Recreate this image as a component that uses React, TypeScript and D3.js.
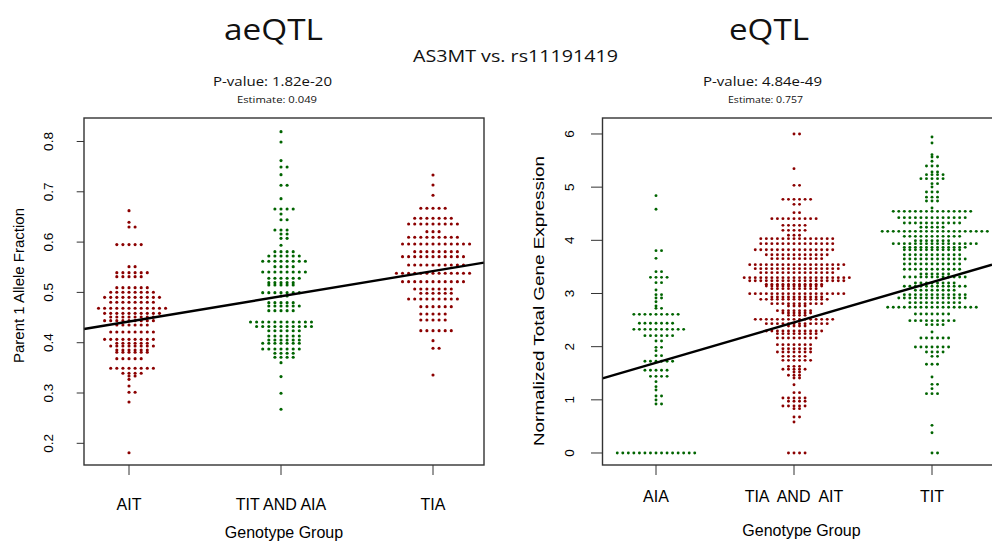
import React from "react";
import * as d3 from "d3";

// beeswarm rows: [value, number of samples in the row]
const aeqtlGroups = ["AIT", "TIT AND AIA", "TIA"];
const eqtlGroups = ["AIA", "TIA  AND  AIT", "TIT"];

const aitRows: [number, number][] = [
  [0.6625, 1], [0.6394, 1], [0.6301, 2], [0.595, 5], [0.5512, 2], [0.5393, 6],
  [0.5313, 5], [0.5095, 6], [0.5002, 8], [0.4902, 10], [0.4803, 8], [0.4684, 12],
  [0.4584, 10], [0.4511, 8], [0.4439, 9], [0.4352, 6], [0.4213, 8], [0.4067, 9],
  [0.3988, 6], [0.3935, 8], [0.3855, 6], [0.3809, 6], [0.3683, 5], [0.3491, 8],
  [0.3392, 4], [0.3339, 2], [0.3272, 1], [0.314, 1], [0.3014, 2], [0.2822, 1],
  [0.1814, 1],
];
const titAiaRows: [number, number][] = [
  [0.8196, 1], [0.7991, 1], [0.762, 1], [0.7494, 2], [0.7341, 1], [0.7129, 2],
  [0.6864, 1], [0.6659, 4], [0.6559, 1], [0.6443, 2], [0.6241, 3], [0.6162, 2],
  [0.6075, 2], [0.5936, 1], [0.581, 4], [0.5724, 6], [0.5618, 8], [0.5512, 4],
  [0.5406, 8], [0.528, 6], [0.5194, 5], [0.5146, 5], [0.4995, 7], [0.4929, 2],
  [0.4796, 5], [0.473, 6], [0.4637, 5], [0.4412, 11], [0.4322, 10], [0.4239, 6],
  [0.4134, 6], [0.4054, 6], [0.3988, 7], [0.3875, 7], [0.3789, 4], [0.371, 4],
  [0.3604, 1], [0.3326, 1], [0.2994, 1], [0.2676, 1],
];
const tiaRows: [number, number][] = [
  [0.7335, 1], [0.7136, 1], [0.693, 1], [0.6672, 5], [0.6473, 7], [0.636, 9],
  [0.6208, 3], [0.6095, 9], [0.5963, 12], [0.581, 8], [0.5711, 11], [0.5545, 10],
  [0.538, 13], [0.5214, 11], [0.5068, 7], [0.4982, 6], [0.4869, 9], [0.4717, 6],
  [0.4571, 5], [0.4452, 5], [0.424, 6], [0.4041, 1], [0.3889, 2], [0.3358, 1],
];

const aiaRows: [number, number][] = [
  [4.84, 1], [4.583, 1], [3.806, 2], [3.661, 1], [3.411, 2], [3.304, 4], [3.204, 2],
  [3.066, 1], [2.978, 2], [2.915, 2], [2.846, 1], [2.765, 1], [2.721, 2], [2.608, 9],
  [2.439, 7], [2.326, 10], [2.207, 6], [2.107, 2], [1.987, 2], [1.925, 1], [1.831, 2],
  [1.725, 6], [1.555, 5], [1.442, 4], [1.342, 1], [1.248, 1], [1.185, 1], [1.072, 2],
  [0.997, 1], [0.922, 2], [0, 15],
];
const tiaAitRows: [number, number][] = [
  [6.0, 2], [5.348, 1], [5.034, 2], [4.771, 6], [4.677, 2], [4.52, 2], [4.408, 9],
  [4.282, 5], [4.188, 5], [4.094, 3], [4.031, 14], [3.937, 14], [3.824, 15], [3.73, 12],
  [3.655, 10], [3.542, 18], [3.467, 16], [3.392, 14], [3.298, 20], [3.241, 18],
  [3.172, 11], [3.141, 11], [3.091, 9], [2.997, 18], [2.934, 10], [2.89, 13], [2.809, 10],
  [2.765, 4], [2.677, 7], [2.633, 6], [2.589, 4], [2.514, 15], [2.433, 12], [2.389, 4],
  [2.295, 11], [2.245, 8], [2.163, 8], [2.038, 7], [1.962, 6], [1.9, 7], [1.818, 5],
  [1.743, 6], [1.63, 3], [1.574, 5], [1.524, 2], [1.461, 3], [1.411, 2], [1.285, 1],
  [1.135, 2], [1.034, 5], [0.972, 4], [0.884, 5], [0.834, 2], [0.677, 2], [0.583, 1],
  [0, 4],
];
const titRows: [number, number][] = [
  [5.944, 1], [5.831, 1], [5.611, 1], [5.567, 2], [5.486, 1], [5.398, 3], [5.285, 2],
  [5.235, 4], [5.16, 5], [5.066, 2], [5.003, 1], [4.909, 3], [4.812, 3], [4.74, 3],
  [4.608, 1], [4.545, 15], [4.426, 13], [4.326, 11], [4.245, 5], [4.169, 20], [4.075, 11],
  [3.993, 7], [3.937, 16], [3.868, 12], [3.824, 11], [3.73, 11], [3.649, 12], [3.555, 11],
  [3.455, 11], [3.367, 6], [3.31, 12], [3.198, 8], [3.135, 12], [3.06, 8], [2.978, 12],
  [2.915, 13], [2.828, 10], [2.74, 17], [2.614, 7], [2.489, 9], [2.414, 4], [2.276, 1],
  [2.163, 6], [1.994, 7], [1.9, 4], [1.818, 2], [1.668, 3], [1.429, 1], [1.291, 2],
  [1.21, 1], [1.116, 3], [0.52, 1], [0.382, 1], [0, 2],
];

const aeqtlTicks = [0.2, 0.3, 0.4, 0.5, 0.6, 0.7, 0.8];
const eqtlTicks = [0, 1, 2, 3, 4, 5, 6];

const RED = "#8b0000";
const GREEN = "#006400";
const AXIS_FONT = "'Liberation Sans', Arial, Helvetica, sans-serif";
const TITLE_FONT = "'Open Sans', sans-serif";

// square-grid beeswarm: 0, +1, -1, +2, -2 ... columns per row
function swarm(rows: [number, number][], group: number, step: number) {
  const pts: { x: number; y: number }[] = [];
  rows.forEach(([value, n]) => {
    d3.range(n).forEach((k) => {
      const off = k === 0 ? 0 : k % 2 === 1 ? (k + 1) / 2 : -k / 2;
      pts.push({ x: group + off * step, y: value });
    });
  });
  return pts;
}

function drawPanel(svg: any, p: any) {
  const x = d3.scaleLinear().domain([1, 3]).range(p.xRange);
  const y = d3.scaleLinear().domain(p.yDomain).range([465, 118]);
  const [left, right] = p.box;
  const g = svg.append("g");

  /* points */
  p.rows.forEach((rows: [number, number][], i: number) => {
    g.append("g")
      .attr("fill", p.colors[i])
      .selectAll("circle")
      .data(swarm(rows, i + 1, 0.0401))
      .join("circle")
      .attr("cx", (d: any) => x(d.x))
      .attr("cy", (d: any) => y(d.y))
      .attr("r", p.r);
  });

  /* regression line */
  const xs = [x.invert(left), x.invert(Math.min(right, 992))];
  const line = d3
    .line<number>()
    .x((d) => x(d))
    .y((d) => y(p.intercept + p.slope * d));
  g.append("path")
    .attr("d", line(xs))
    .attr("fill", "none")
    .attr("stroke", "#000")
    .attr("stroke-width", 2.4);

  /* box */
  g.append("rect")
    .attr("x", left)
    .attr("y", 118)
    .attr("width", right - left)
    .attr("height", 465 - 118)
    .attr("fill", "none")
    .attr("stroke", "#333")
    .attr("stroke-width", 1.4);

  /* y axis */
  const yt = g.append("g");
  p.yTicks.forEach((t: number) => {
    yt.append("line")
      .attr("x1", left - p.yTickLen)
      .attr("x2", left)
      .attr("y1", y(t))
      .attr("y2", y(t))
      .attr("stroke", "#333");
    yt.append("text")
      .attr("transform", `translate(${p.yLabelX},${y(t)}) rotate(-90)`)
      .attr("text-anchor", "middle")
      .attr("font-family", AXIS_FONT)
      .attr("font-size", p.yTickFont)
      .text(String(t));
  });

  /* x axis */
  p.groups.forEach((name: string, i: number) => {
    g.append("line")
      .attr("x1", x(i + 1))
      .attr("x2", x(i + 1))
      .attr("y1", 465)
      .attr("y2", 475)
      .attr("stroke", "#333");
    g.append("text")
      .attr("x", x(i + 1))
      .attr("y", p.xLabelY)
      .attr("text-anchor", "middle")
      .attr("font-family", AXIS_FONT)
      .attr("font-size", 16)
      .style("white-space", "pre")
      .text(name);
  });

  g.append("text")
    .attr("x", p.xTitleX)
    .attr("y", p.xTitleY)
    .attr("text-anchor", "middle")
    .attr("font-family", AXIS_FONT)
    .attr("font-size", 16)
    .text("Genotype Group");

  const yTitle = g
    .append("text")
    .attr("transform", `translate(${p.yTitle[0]},${p.yTitle[1]}) rotate(-90)`)
    .attr("text-anchor", "middle")
    .attr("font-family", AXIS_FONT)
    .attr("font-size", p.yTitleFont)
    .text(p.yTitleText);
  if (p.yTitleLen) {
    yTitle.attr("textLength", p.yTitleLen).attr("lengthAdjust", "spacingAndGlyphs");
  }

  /* headings */
  const head = (txt: string, cx: number, by: number, size: number, len: number) =>
    svg
      .append("text")
      .attr("x", cx)
      .attr("y", by)
      .attr("text-anchor", "middle")
      .attr("font-family", TITLE_FONT)
      .attr("font-size", size)
      .attr("textLength", len)
      .attr("lengthAdjust", "spacingAndGlyphs")
      .attr("fill", "#111")
      .text(txt);
  head(p.title, p.titleX, 40, 30, p.titleLen);
  head(p.pValue, p.pX, 86, 12.5, 119);
  head(p.estimate, p.eX, 103, 9.5, p.eLen);
}

export default function App() {
  const svgRef = React.useRef<SVGSVGElement>(null);

  React.useEffect(() => {
    const svg = d3.select(svgRef.current);
    svg.selectAll("*").remove();

    svg
      .append("text")
      .attr("x", 515.5)
      .attr("y", 62)
      .attr("text-anchor", "middle")
      .attr("font-family", TITLE_FONT)
      .attr("font-size", 17)
      .attr("textLength", 205)
      .attr("lengthAdjust", "spacingAndGlyphs")
      .attr("fill", "#111")
      .text("AS3MT vs. rs11191419");

    drawPanel(svg, {
      rows: [aitRows, titAiaRows, tiaRows],
      colors: [RED, GREEN, RED],
      groups: aeqtlGroups,
      xRange: [129, 433],
      yDomain: [0.1569, 0.8467],
      box: [84, 484],
      r: 1.55,
      intercept: 0.392,
      slope: 0.0501,
      yTicks: aeqtlTicks,
      yTickLen: 7.3,
      yLabelX: 52.5,
      yTickFont: 13.5,
      xLabelY: 510,
      xTitleX: 284,
      xTitleY: 538,
      yTitle: [24, 285.5],
      yTitleFont: 15,
      yTitleText: "Parent 1 Allele Fraction",
      yTitleLen: 0,
      title: "aeQTL",
      titleX: 273.5,
      titleLen: 99,
      pValue: "P-value: 1.82e-20",
      pX: 272.5,
      estimate: "Estimate: 0.049",
      eX: 277,
      eLen: 80,
    });

    drawPanel(svg, {
      rows: [aiaRows, tiaAitRows, titRows],
      colors: [GREEN, RED, GREEN],
      groups: eqtlGroups,
      xRange: [656, 932],
      yDomain: [-0.2257, 6.3006],
      box: [602.5, 1010],
      r: 1.45,
      intercept: 0.94,
      slope: 0.757,
      yTicks: eqtlTicks,
      yTickLen: 11.5,
      yLabelX: 574,
      yTickFont: 13.5,
      xLabelY: 502,
      xTitleX: 801.5,
      xTitleY: 536,
      yTitle: [544, 301],
      yTitleFont: 15,
      yTitleText: "Normalized Total Gene Expression",
      yTitleLen: 290,
      title: "eQTL",
      titleX: 769,
      titleLen: 80,
      pValue: "P-value: 4.84e-49",
      pX: 762.5,
      estimate: "Estimate: 0.757",
      eX: 765.5,
      eLen: 75,
    });
  }, []);

  return (
    <svg
      ref={svgRef}
      width={992}
      height={543}
      style={{ position: "absolute", left: 0, top: 0, background: "#fff" }}
    />
  );
}
